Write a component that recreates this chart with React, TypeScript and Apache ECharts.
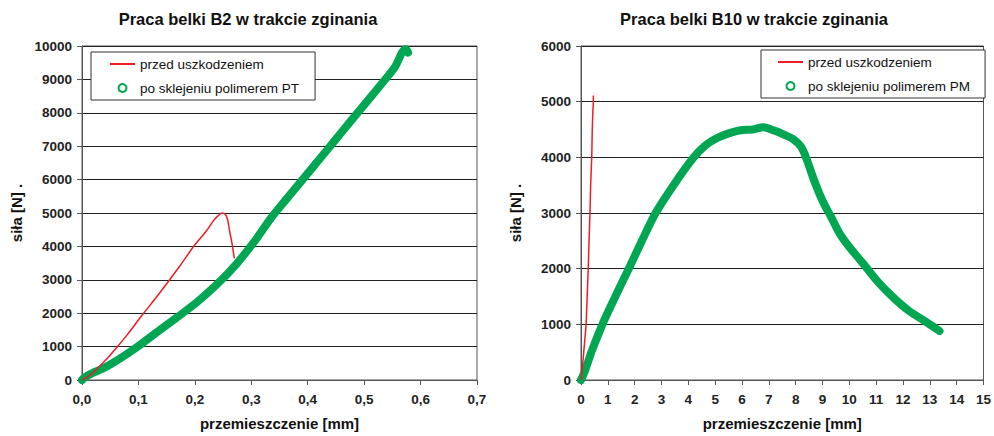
import React, { useEffect, useRef } from "react";
import * as echarts from "echarts";

// Belka B2
const b2Przed: [number, number][] = [
  [0, 0], [0.01, 100], [0.02, 230], [0.03, 390], [0.045, 650], [0.06, 940], [0.08, 1350],
  [0.106, 1930], [0.13, 2440], [0.153, 2950], [0.175, 3450], [0.197, 3980], [0.21, 4250],
  [0.221, 4475], [0.232, 4750], [0.24, 4900], [0.248, 5000], [0.254, 4960], [0.258, 4800],
  [0.262, 4430], [0.266, 4080], [0.268, 3850], [0.27, 3640],
];
const b2Po: [number, number][] = [
  [0, 0], [0.005, 80], [0.02, 220], [0.04, 370], [0.067, 640], [0.097, 980], [0.132, 1420],
  [0.168, 1870], [0.203, 2320], [0.239, 2860], [0.274, 3480], [0.31, 4250], [0.335, 4850],
  [0.36, 5370], [0.385, 5880], [0.41, 6390], [0.435, 6900], [0.46, 7420], [0.485, 7930],
  [0.51, 8440], [0.535, 8950], [0.555, 9380], [0.567, 9800], [0.574, 9900], [0.578, 9800],
];
// Belka B10
const b10Przed: [number, number][] = [
  [0, 0], [0.06, 265], [0.12, 600], [0.19, 1000], [0.23, 1500], [0.27, 2000], [0.3, 2500],
  [0.335, 3000], [0.36, 3500], [0.4, 4000], [0.42, 4500], [0.44, 4800], [0.46, 5000], [0.46, 5110],
];
const b10Po: [number, number][] = [
  [0, 0], [0.15, 170], [0.4, 520], [0.8, 1000], [1.28, 1500], [1.78, 2000], [2.27, 2500],
  [2.78, 3000], [3.45, 3500], [4.2, 4000], [4.6, 4200], [5.0, 4330], [5.5, 4430], [6.0, 4490],
  [6.4, 4500], [6.8, 4540], [7.2, 4480], [7.6, 4400], [7.9, 4330], [8.2, 4190], [8.4, 3980],
  [8.7, 3570], [9.0, 3220], [9.33, 2920], [9.64, 2630], [10.0, 2390], [10.5, 2100], [11.0, 1800],
  [11.6, 1500], [12.2, 1250], [12.9, 1030], [13.36, 880],
];

const titles = ["Praca belki B2 w trakcie zginania", "Praca belki B10 w trakcie zginania"];
const nameRed = "przed uszkodzeniem";
const nameGreenPT = "po sklejeniu polimerem PT";
const nameGreenPM = "po sklejeniu polimerem PM";
const xName = "przemieszczenie [mm]";
const yName = "siła [N] .";

const RED = "#ee1d25";
const GREEN = "#00a651";
const FONT = "Liberation Sans, Arial, sans-serif";

export default function App() {
  const ref = useRef<HTMLDivElement>(null);
  useEffect(() => {
    if (!ref.current) return;
    const chart = echarts.init(ref.current, null, { renderer: "svg" });
    const axisCommonX = {
      type: "value" as const,
      min: 0,
      nameLocation: "middle" as const,
      name: xName,
      nameGap: 36,
      nameTextStyle: { fontFamily: FONT, fontSize: 15, fontWeight: "bold" as const, color: "#111" },
      axisLine: { show: true, lineStyle: { color: "#555", width: 1 } },
      axisTick: { show: true, inside: false, length: 5, lineStyle: { color: "#555" } },
      axisLabel: { fontFamily: FONT, fontSize: 13.5, fontWeight: "bold" as const, color: "#222", margin: 12 },
      splitLine: { show: false },
    };
    const axisCommonY = {
      type: "value" as const,
      min: 0,
      interval: 1000,
      nameLocation: "middle" as const,
      name: yName,
      nameGap: 58,
      nameTextStyle: { fontFamily: FONT, fontSize: 15, fontWeight: "bold" as const, color: "#111" },
      axisLine: { show: true, lineStyle: { color: "#555", width: 1 } },
      axisTick: { show: true, inside: false, length: 5, lineStyle: { color: "#555" } },
      axisLabel: {
        fontFamily: FONT, fontSize: 13.5, fontWeight: "bold" as const, color: "#222", margin: 10,
        formatter: (v: number) => String(v),
      },
      splitLine: { show: true, lineStyle: { color: "#222", width: 1 } },
    };
    const legendCommon = {
      orient: "vertical" as const,
      backgroundColor: "#fff",
      borderColor: "#333",
      borderWidth: 1,
      borderRadius: 0,
      itemWidth: 25,
      itemHeight: 8,
      itemGap: 10,
      textStyle: { fontFamily: FONT, fontSize: 13.5, color: "#111" },
      selectedMode: false,
    };
    const greenLine = {
      type: "line" as const,
      showSymbol: false,
      symbol: "emptyCircle",
      clip: false,
      smooth: 0.3,
      lineStyle: { color: GREEN, width: 8, cap: "round" as const, join: "round" as const },
      itemStyle: { color: GREEN, borderWidth: 1 },
    };
    const redLine = {
      type: "line" as const,
      showSymbol: false,
      symbol: "none",
      smooth: 0.2,
      lineStyle: { color: RED, width: 1.5 },
      itemStyle: { color: RED },
    };
    chart.setOption({
      animation: false,
      backgroundColor: "#fff",
      title: [
        {
          text: titles[0], left: 248, top: 10, textAlign: "center", padding: 0,
          textStyle: { fontFamily: FONT, fontSize: 16.5, fontWeight: "bold", color: "#111" },
        },
        {
          text: titles[1], left: 754, top: 10, textAlign: "center", padding: 0,
          textStyle: { fontFamily: FONT, fontSize: 16.5, fontWeight: "bold", color: "#111" },
        },
      ],
      grid: [
        { left: 82, top: 46, width: 395, height: 339, show: true, borderColor: "#555", borderWidth: 1, backgroundColor: "transparent" },
        { left: 581, top: 46, width: 403, height: 339, show: true, borderColor: "#555", borderWidth: 1, backgroundColor: "transparent" },
      ],
      xAxis: [
        {
          ...axisCommonX, gridIndex: 0, max: 0.7, interval: 0.1,
          axisLabel: { ...axisCommonX.axisLabel, formatter: (v: number) => v.toFixed(1).replace(".", ",") },
        },
        { ...axisCommonX, gridIndex: 1, max: 15, interval: 1 },
      ],
      yAxis: [
        { ...axisCommonY, gridIndex: 0, max: 10000 },
        { ...axisCommonY, gridIndex: 1, max: 6000 },
      ],
      legend: [
        {
          ...legendCommon, left: 91, top: 52, padding: [5, 16, 5, 19],
          data: [
            { name: nameRed, icon: "path://M0 0H25V2H0Z" },
            { name: nameGreenPT, icon: "emptyCircle" },
          ],
        },
        {
          ...legendCommon, left: 761, top: 50, padding: [5, 15, 5, 17],
          data: [
            { name: nameRed, icon: "path://M0 0H25V2H0Z" },
            { name: nameGreenPM, icon: "emptyCircle" },
          ],
        },
      ],
      series: [
        { ...greenLine, name: nameGreenPT, xAxisIndex: 0, yAxisIndex: 0, data: b2Po },
        { ...redLine, name: nameRed, xAxisIndex: 0, yAxisIndex: 0, data: b2Przed },
        { ...greenLine, name: nameGreenPM, xAxisIndex: 1, yAxisIndex: 1, data: b10Po },
        { ...redLine, name: nameRed, xAxisIndex: 1, yAxisIndex: 1, data: b10Przed },
      ],
    });
    return () => chart.dispose();
  }, []);
  return (
    <div
      ref={ref}
      style={{ position: "absolute", left: 0, top: 0, width: 994, height: 436 }}
    />
  );
}
